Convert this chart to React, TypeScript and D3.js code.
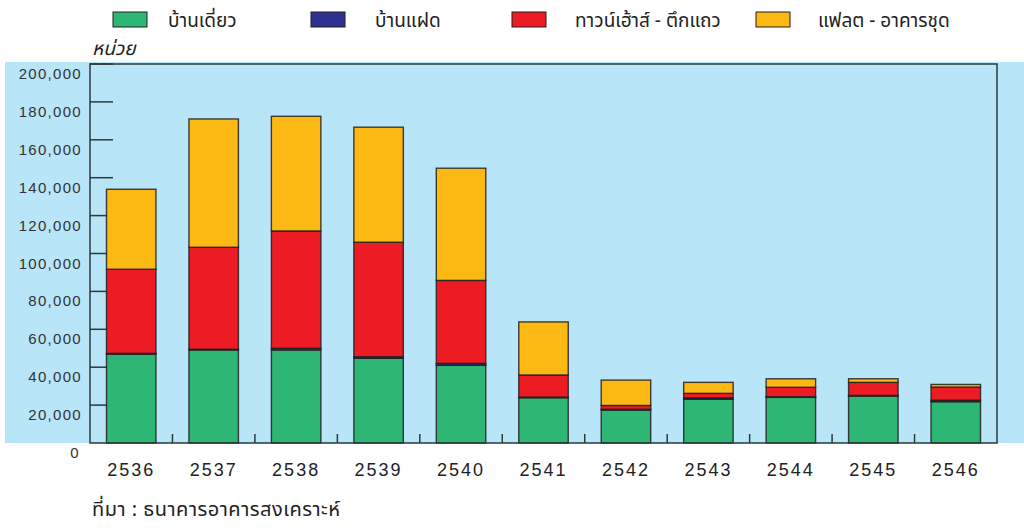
import React from "react";
import * as d3 from "d3";

const years = ["2536", "2537", "2538", "2539", "2540", "2541", "2542", "2543", "2544", "2545", "2546"];
const detached = [46900, 49100, 49100, 44700, 41000, 23900, 17400, 23100, 24100, 24800, 21800];
const semiDetached = [400, 400, 900, 850, 1000, 300, 400, 700, 300, 300, 800];
const townhouse = [44400, 53800, 61900, 60400, 43800, 11700, 2000, 2400, 5000, 6900, 6900];
const condo = [42200, 67700, 60500, 60700, 59200, 28000, 13400, 5800, 4500, 1900, 1400];

const seriesNames = ["บ้านเดี่ยว", "บ้านแฝด", "ทาวน์เฮ้าส์ - ตึกแถว", "แฟลต - อาคารชุด"];
const seriesColors = ["#2db674", "#2e3192", "#ed1c24", "#fdb913"];
const yTicks = [0, 20000, 40000, 60000, 80000, 100000, 120000, 140000, 160000, 180000, 200000];

const W = 1024;
const H = 528;
const left = 90;
const right = 997;
const top = 64;
const bottom = 443;

const thaiFont = "Noto Sans Thai, Noto Sans Thai Looped, Noto Sans, sans-serif";

export default function App() {
  const x = d3.scaleBand<string>().domain(years).range([left, right]).paddingInner(0.4).paddingOuter(0.2);
  const bandStep = (right - left) / years.length;
  const y = d3.scaleLinear().domain([0, 200000]).range([bottom, top]);
  const table = years.map((yr, i) => ({
    year: yr,
    s0: detached[i],
    s1: semiDetached[i],
    s2: townhouse[i],
    s3: condo[i],
  }));
  const stack = d3.stack<any>().keys(["s0", "s1", "s2", "s3"]);
  const layers = stack(table);
  const fmt = d3.format(",");
  const legendX = [113, 311, 512, 756];
  const legendTextX = [168, 375, 575, 818];

  return (
    <svg width={W} height={H} style={{ position: "absolute", left: 0, top: 0 }}>
      <rect x={0} y={0} width={W} height={H} fill="#ffffff" />
      <rect x={5} y={62} width={W - 5} height={bottom - 62} fill="#b9e5f8" />
      {/* y ticks */}
      {yTicks.slice(1).map((t) => (
        <line key={"yt" + t} x1={left} x2={left + 23} y1={y(t)} y2={y(t)} stroke="#2b3a3a" strokeWidth={1.5} />
      ))}
      {/* x ticks */}
      {years.slice(1).map((yr, i) => (
        <line
          key={"xt" + yr}
          x1={left + bandStep * (i + 1)}
          x2={left + bandStep * (i + 1)}
          y1={bottom}
          y2={bottom - 9}
          stroke="#2b3a3a"
          strokeWidth={1.5}
        />
      ))}
      {/* bars */}
      {layers.map((layer, li) => (
        <g key={"l" + li}>
          {layer.map((d, i) => (
            <rect
              key={i}
              x={x(years[i])!}
              y={y(d[1])}
              width={x.bandwidth()}
              height={Math.max(0, y(d[0]) - y(d[1]))}
              fill={seriesColors[li]}
              stroke="#231f20"
              strokeWidth={1.4}
              strokeOpacity={0.85}
            />
          ))}
        </g>
      ))}
      {/* frame */}
      <rect x={left} y={top} width={right - left} height={bottom - top} fill="none" stroke="#2b3a3a" strokeWidth={1.5} />
      {/* y labels */}
      {yTicks.map((t) => (
        <text
          key={"yl" + t}
          x={t === 0 ? 80 : 82}
          y={y(t) + 9.5}
          textAnchor="end"
          dominantBaseline="central"
          fontFamily="Liberation Sans, Arial, sans-serif"
          fontSize={15}
          letterSpacing={1.3}
          fill="#333333"
        >
          {fmt(t)}
        </text>
      ))}
      {/* x labels */}
      {years.map((yr) => (
        <text
          key={"xl" + yr}
          x={x(yr)! + x.bandwidth() / 2}
          y={476}
          textAnchor="middle"
          fontFamily="Liberation Sans, Arial, sans-serif"
          fontSize={18}
          letterSpacing={2}
          fill="#222222"
        >
          {yr}
        </text>
      ))}
      {/* legend */}
      {seriesNames.map((n, i) => (
        <g key={"lg" + i}>
          <rect x={legendX[i]} y={12} width={34} height={15} fill={seriesColors[i]} stroke="#231f20" strokeWidth={1} />
          <text x={legendTextX[i]} y={27} fontFamily={thaiFont} fontSize={19} fill="#222222">
            {n}
          </text>
        </g>
      ))}
      <text x={92} y={55} fontFamily={thaiFont} fontStyle="italic" fontSize={19} fill="#222222">
        หน่วย
      </text>
      <text x={92} y={516} fontFamily={thaiFont} fontSize={20} letterSpacing={0.5} fill="#222222">
        ที่มา : ธนาคารอาคารสงเคราะห์
      </text>
    </svg>
  );
}
